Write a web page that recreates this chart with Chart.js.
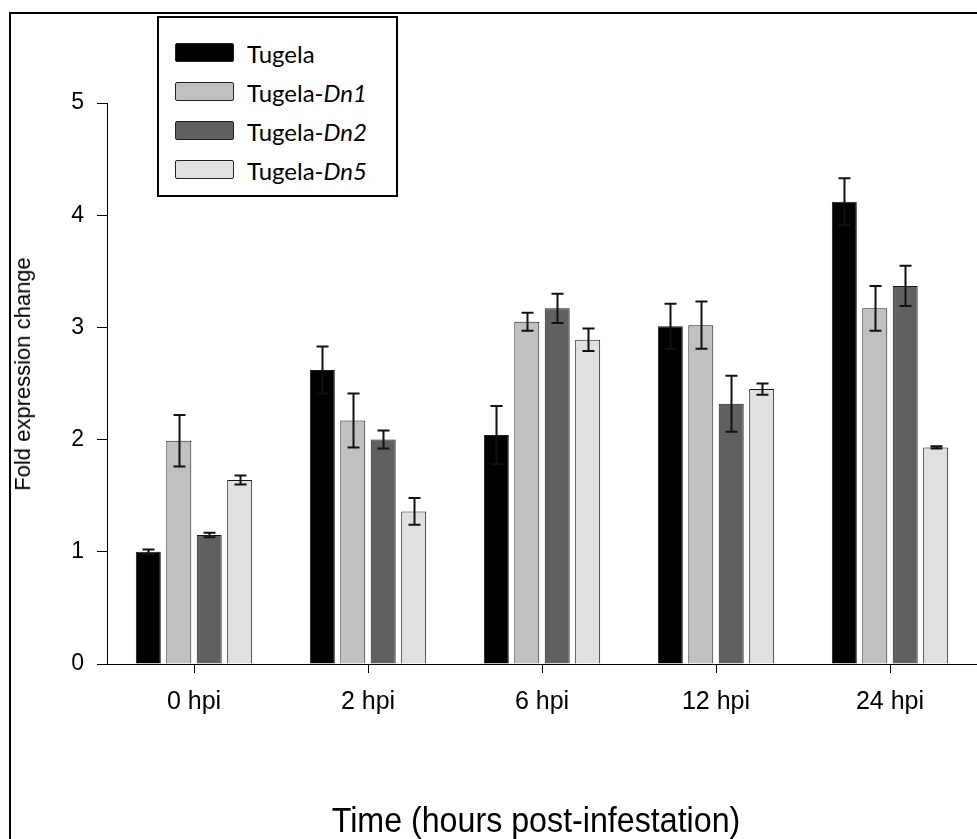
<!DOCTYPE html>
<html>
<head>
<meta charset="utf-8">
<script src="https://cdn.jsdelivr.net/npm/chart.js@4.4.1/dist/chart.umd.min.js"></script>
<style>
  html, body { margin: 0; padding: 0; background: #fff; }
  #wrap { position: relative; width: 977px; height: 839px; overflow: hidden; }
  #frame { position: absolute; left: 9px; top: 12px; width: 1200px; height: 1200px; border-left: 2px solid #000; border-top: 2px solid #000; }
  #legend { position: absolute; left: 157px; top: 16px; width: 237px; height: 177px; border: 2px solid #000; background: #fff; font-family: Lato, "Open Sans", sans-serif; font-size: 24px; color: #000; }
  .row { position: absolute; left: 16px; height: 19px; display: flex; align-items: center; white-space: nowrap; }
  .sw { width: 59px; height: 19px; box-sizing: border-box; border: 1px solid #222; border-radius: 2px; margin-right: 13px; }
  .row span { line-height: 19px; position: relative; top: 1px; }
  #ytitle { position: absolute; left: 23px; top: 374px; transform: translate(-50%, -50%) rotate(-90deg); font-family: "Liberation Sans", Arial, sans-serif; font-size: 22px; white-space: nowrap; }
  #xtitle { position: absolute; left: 536px; top: 820px; transform: translate(-50%, -50%) scaleX(0.92); font-family: "Liberation Sans", Arial, sans-serif; font-size: 35px; white-space: nowrap; }
</style>
</head>
<body>
<div id="wrap">
  <canvas id="chart" width="977" height="839"></canvas>
  <div id="frame"></div>
  <div id="legend"></div>
  <div id="ytitle">Fold expression change</div>
  <div id="xtitle">Time (hours post-infestation)</div>
</div>
<script>
// ---------- data ----------
const categories = ['0 hpi', '2 hpi', '6 hpi', '12 hpi', '24 hpi'];
const seriesNames = ['Tugela', 'Tugela-Dn1', 'Tugela-Dn2', 'Tugela-Dn5'];
const seriesItalic = ['', 'Dn1', 'Dn2', 'Dn5'];

const tugela = [1.00, 2.62, 2.04, 3.01, 4.12];
const tugelaDn1 = [1.99, 2.17, 3.05, 3.02, 3.17];
const tugelaDn2 = [1.15, 2.00, 3.17, 2.32, 3.37];
const tugelaDn5 = [1.64, 1.36, 2.89, 2.45, 1.93];

const tugelaErr = [0.02, 0.21, 0.26, 0.20, 0.21];
const tugelaDn1Err = [0.23, 0.24, 0.08, 0.21, 0.20];
const tugelaDn2Err = [0.02, 0.08, 0.13, 0.25, 0.18];
const tugelaDn5Err = [0.04, 0.12, 0.10, 0.05, 0.01];

const yTicks = [0, 1, 2, 3, 4, 5];

const FILLS = ['#000000', '#c0c0c0', '#606060', '#e0e0e0'];
const EDGE = '#1a1a1a';

const values = [tugela, tugelaDn1, tugelaDn2, tugelaDn5];
const errors = [tugelaErr, tugelaDn1Err, tugelaDn2Err, tugelaDn5Err];

// ---------- legend (html, so the italics survive) ----------
const legend = document.getElementById('legend');
seriesNames.forEach((name, i) => {
    const row = document.createElement('div');
    row.className = 'row';
    row.style.top = (25 + i * 39) + 'px';
    const label = seriesItalic[i] ? 'Tugela-<i>' + seriesItalic[i] + '</i>' : name;
    row.innerHTML = `<div class="sw" style="background:${FILLS[i]}"></div><span>${label}</span>`;
    legend.appendChild(row);
});

// ---------- error bars ----------
const errorBars = {
    id: 'errorBars',
    afterDatasetsDraw(chart) {
        const ctx = chart.ctx;
        const y = chart.scales.y;
        ctx.save();
        ctx.strokeStyle = '#111';
        ctx.lineWidth = 2;
        chart.data.datasets.forEach((ds, di) => {
            const meta = chart.getDatasetMeta(di);
            meta.data.forEach((bar, i) => {
                const v = ds.data[i], e = errors[di][i];
                const top = y.getPixelForValue(v + e);
                const bot = y.getPixelForValue(v - e);
                const x = Math.round(bar.x) + 0.5;
                ctx.beginPath();
                ctx.moveTo(x, top); ctx.lineTo(x, bot);
                ctx.moveTo(x - 6, top); ctx.lineTo(x + 6, top);
                ctx.moveTo(x - 6, bot); ctx.lineTo(x + 6, bot);
                ctx.stroke();
            });
        });
        ctx.restore();
    }
};

new Chart(document.getElementById('chart'), {
    type: 'bar',
    data: {
        labels: categories,
        datasets: values.map((vals, i) => ({
            label: seriesNames[i],
            data: vals,
            backgroundColor: FILLS[i],
            borderColor: EDGE,
            borderWidth: 1,
            categoryPercentage: 0.70,
            barPercentage: 0.82,
        }))
    },
    options: {
        responsive: false,
        animation: false,
        devicePixelRatio: 1,
        layout: { padding: { top: 103, left: 0, right: 0, bottom: 0 } },
        plugins: { legend: { display: false }, tooltip: { enabled: false } },
        scales: {
            x: {
                grid: { offset: false, drawOnChartArea: false, tickLength: 9, color: '#000', lineWidth: 1 },
                border: { display: true, color: '#000', width: 1 },
                ticks: { color: '#000', padding: 14, font: { family: '"Liberation Sans", Arial, sans-serif', size: 25 } },
                afterFit: (s) => { s.height = 175; }
            },
            y: {
                min: 0,
                max: 5,
                afterBuildTicks: (s) => { s.ticks = yTicks.map(v => ({ value: v })); },
                grid: { drawOnChartArea: false, tickLength: 10, color: '#000', lineWidth: 1 },
                border: { display: true, color: '#000', width: 1 },
                ticks: { color: '#000', padding: 13, font: { family: '"Liberation Sans", Arial, sans-serif', size: 23 } },
                afterFit: (s) => { s.width = 107; }
            }
        }
    },
    plugins: [errorBars]
});
</script>
</body>
</html>
